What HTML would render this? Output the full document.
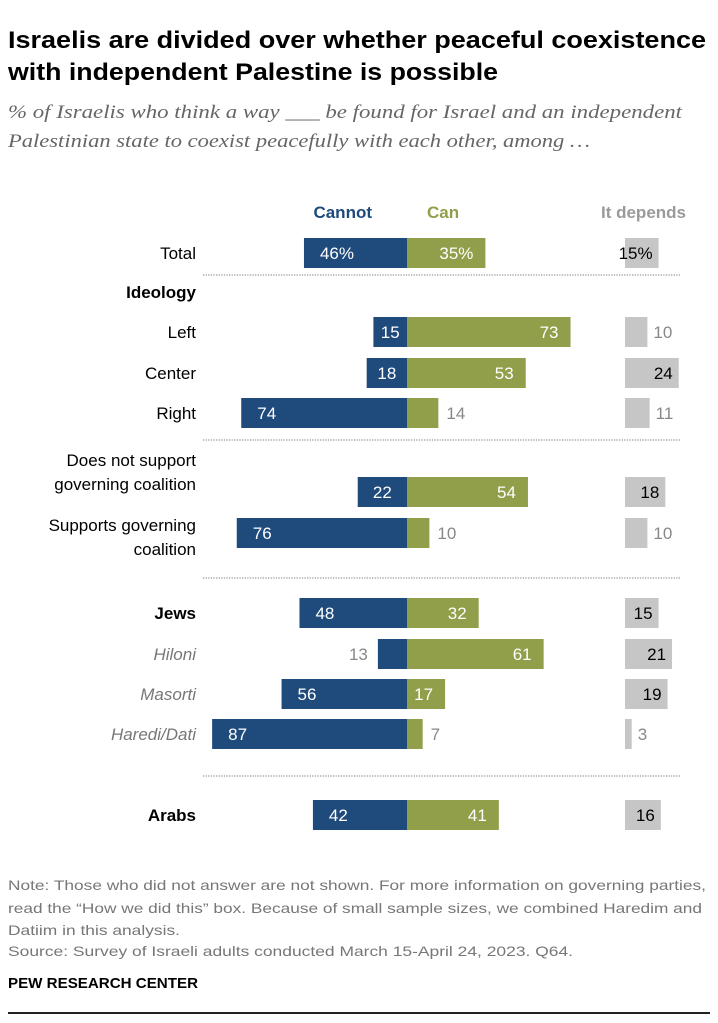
<!DOCTYPE html>
<html><head><meta charset="utf-8"><style>
body{margin:0;background:#fff;width:718px;height:1023px;overflow:hidden}
svg{display:block;font-family:"Liberation Sans Narrow","Liberation Sans",sans-serif}
</style></head><body>
<svg id="chart" width="718" height="1023" viewBox="0 0 718 1023" xmlns="http://www.w3.org/2000/svg">
<text x="8" y="48" font-family="Liberation Sans, sans-serif" font-weight="bold" font-size="24" fill="#000" textLength="698" lengthAdjust="spacingAndGlyphs">Israelis are divided over whether peaceful coexistence</text>
<text x="8" y="80" font-family="Liberation Sans, sans-serif" font-weight="bold" font-size="24" fill="#000" textLength="490" lengthAdjust="spacingAndGlyphs">with independent Palestine is possible</text>
<text x="8" y="118" font-family="Liberation Serif, serif" font-style="italic" font-size="19" fill="#666" textLength="674" lengthAdjust="spacingAndGlyphs">% of Israelis who think a way ___ be found for Israel and an independent</text>
<text x="8" y="147" font-family="Liberation Serif, serif" font-style="italic" font-size="19" fill="#666" textLength="582" lengthAdjust="spacingAndGlyphs">Palestinian state to coexist peacefully with each other, among …</text>
<text x="372" y="218" text-anchor="end" font-weight="bold" font-size="17" fill="#1f4a7c">Cannot</text>
<text x="427" y="218" font-weight="bold" font-size="17" fill="#919e4a">Can</text>
<text x="686" y="218" text-anchor="end" font-weight="bold" font-size="17" fill="#9a9a9a">It depends</text>
<g id="seps"></g>
<g id="rows"></g>
<text font-size="14" fill="#777">
<tspan x="8" y="890" textLength="698" lengthAdjust="spacingAndGlyphs">Note: Those who did not answer are not shown. For more information on governing parties,</tspan>
<tspan x="8" y="913" textLength="694" lengthAdjust="spacingAndGlyphs">read the “How we did this” box. Because of small sample sizes, we combined Haredim and</tspan>
<tspan x="8" y="935" textLength="172" lengthAdjust="spacingAndGlyphs">Datiim in this analysis.</tspan>
<tspan x="8" y="956" textLength="565" lengthAdjust="spacingAndGlyphs">Source: Survey of Israeli adults conducted March 15-April 24, 2023. Q64.</tspan>
</text>
<text x="8" y="988" font-size="15" font-weight="bold" fill="#000" textLength="190" lengthAdjust="spacingAndGlyphs">PEW RESEARCH CENTER</text>
<rect x="8" y="1012" width="702" height="2" fill="#222"/>
</svg>
<script>
const labels=["Total","Ideology","Left","Center","Right","Does not support|governing coalition","Supports governing|coalition","Jews","Hiloni","Masorti","Haredi/Dati","Arabs"];
const cannot=[46,null,15,18,74,22,76,48,13,56,87,42];
const can=[35,null,73,53,14,54,10,32,61,17,7,41];
const depends=[15,null,10,24,11,18,10,15,21,19,3,16];
const rowY=[253,292,332,373,413,492,533,613,654,694,734,815];
const labelDy=[0,0,0,0,0,-20,4,0,0,0,0,0];
const styles=["n","b","n","n","n","n","n","b","i","i","i","b"];
const sepY=[275,440,578,776];
const NS="http://www.w3.org/2000/svg";
const cx=407,k=2.24,dx=625,bh=30;
const X=v=>v*k;
const rows=document.getElementById('rows');
function mk(tag,attrs,parent){const e=document.createElementNS(NS,tag);for(const a in attrs)e.setAttribute(a,attrs[a]);parent.appendChild(e);return e;}
sepY.forEach((y,i)=>{
 const l=mk('line',{x1:203,x2:680,y1:y,y2:y,stroke:'#999','stroke-width':1.3,'stroke-dasharray':'1.3 1.3'},document.getElementById('seps'));
 
 
});
labels.forEach((lab,i)=>{
 const y=rowY[i];
 const parts=lab.split('|');
 const t=mk('text',{x:196,'text-anchor':'end','font-size':17,fill:styles[i]=='i'?'#777':'#000','font-weight':styles[i]=='b'?'bold':'normal','font-style':styles[i]=='i'?'italic':'normal'},rows);
 
 
 parts.forEach((p,j)=>{const s=mk('tspan',{x:196,y:y+6+labelDy[i]+(j-(parts.length-1)/2)*24},t);s.textContent=p;});
 if(cannot[i]==null)return;
 const pct=i==0?'%':'';
 const w1=X(cannot[i]);
 const b1=mk('rect',{x:cx-w1,y:y-bh/2,width:w1,height:bh,fill:'#1f4a7c'},rows);
 
 
 const small1=w1<32;
 const t1=mk('text',{x:small1?cx-w1-10:cx-w1+(w1>70?16:w1/2),y:y+6,'text-anchor':small1?'end':(w1>70?'start':'middle'),'font-size':17,fill:small1?'#888':'#fff'},rows);
 t1.textContent=cannot[i]+pct;
 
 
 const w2=X(can[i]);
 const b2=mk('rect',{x:cx,y:y-bh/2,width:w2,height:bh,fill:'#919e4a'},rows);
 
 
 const small2=w2<36;
 const t2=mk('text',{x:small2?cx+w2+8:cx+w2-12,y:y+6,'text-anchor':small2?'start':'end','font-size':17,fill:small2?'#888':'#fff'},rows);
 t2.textContent=can[i]+pct;
 
 
 const w3=X(depends[i]);
 const b3=mk('rect',{x:dx,y:y-bh/2,width:w3,height:bh,fill:'#c6c6c6'},rows);
 
 
 const small3=depends[i]<13;
 const t3=mk('text',{x:small3?dx+w3+6:dx+w3-6,y:y+6,'text-anchor':small3?'start':'end','font-size':17,fill:small3?'#888':'#000'},rows);
 t3.textContent=depends[i]+pct;
 
 
});
</script>
</body></html>
